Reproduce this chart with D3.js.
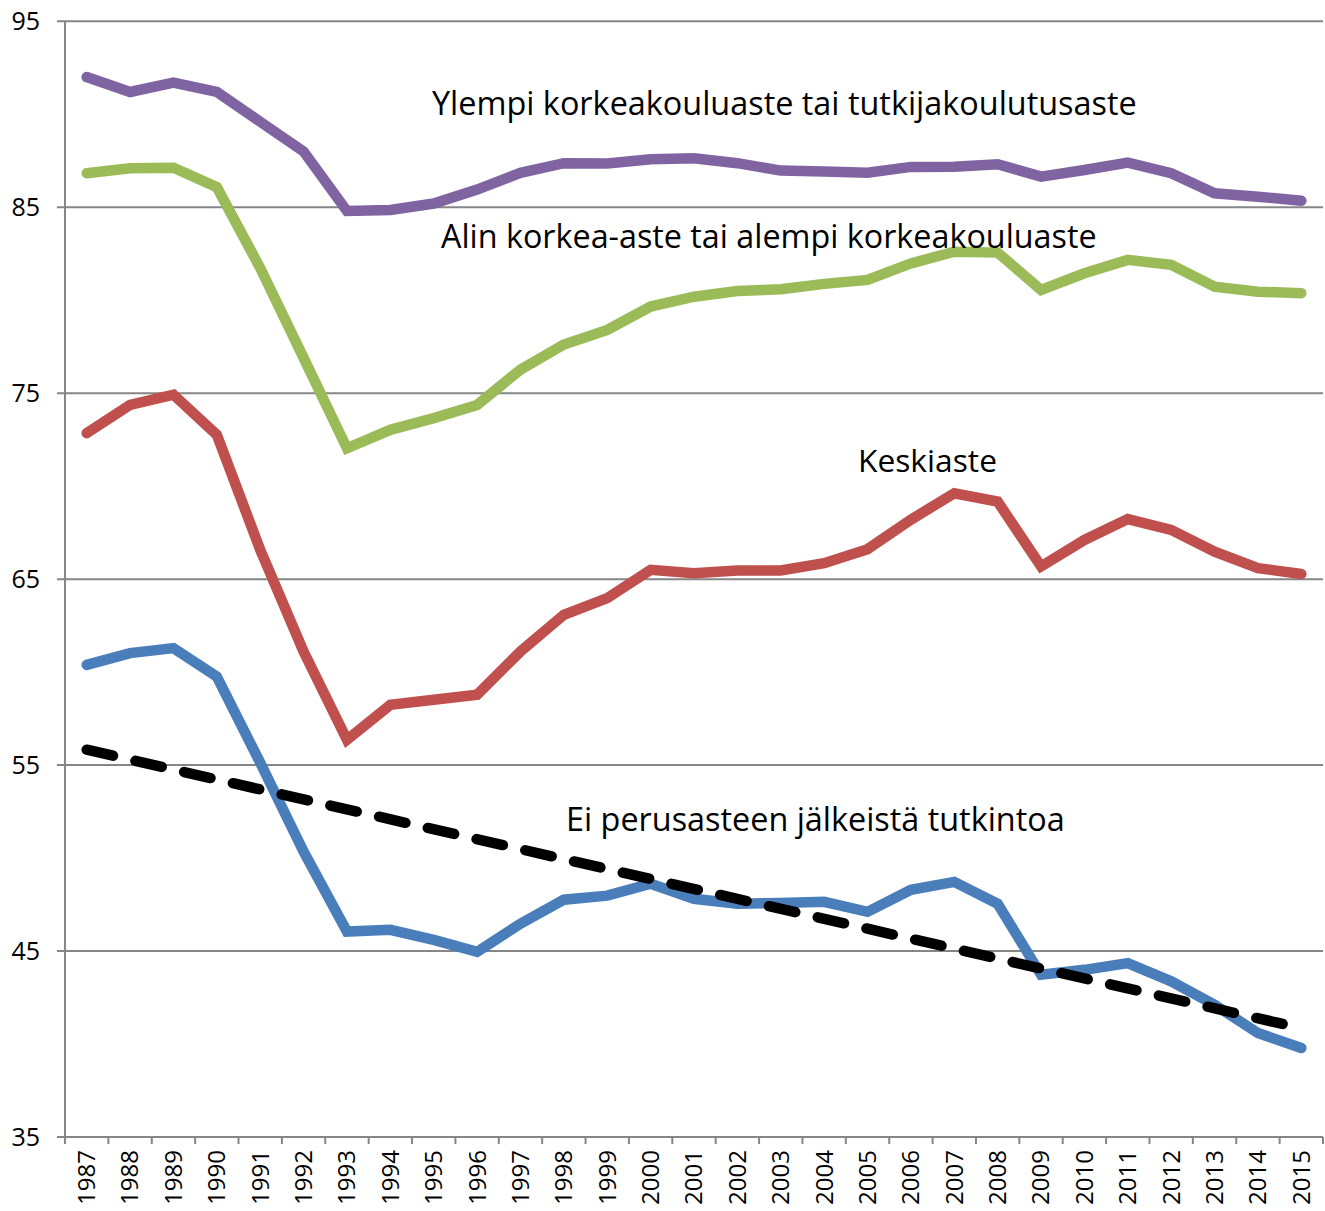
<!DOCTYPE html>
<html>
<head>
<meta charset="utf-8">
<script src="https://cdn.jsdelivr.net/npm/d3@7"></script>
<style>
  body { margin: 0; background: #fff; }
  text { font-family: 'Open Sans', 'Noto Sans', sans-serif; fill: #000; }
</style>
</head>
<body>
<div id="chart"></div>
<script>
// Years on the x axis
const years = d3.range(1987, 2016)

// Series values
const ylempi = [92.0, 91.2, 91.7, 91.2, 89.6, 88.0, 84.8, 84.85, 85.2, 85.95, 86.85, 87.37, 87.35, 87.58, 87.63,
  87.37, 86.97, 86.92, 86.86, 87.17, 87.18, 87.31, 86.65, 87.0, 87.4, 86.83, 85.75, 85.57, 85.35]
const alin = [86.83, 87.1, 87.12, 86.08, 81.73, 76.9, 72.04, 73.03, 73.66, 74.37, 76.27, 77.62, 78.4, 79.66, 80.19,
  80.5, 80.59, 80.88, 81.09, 81.98, 82.61, 82.56, 80.55, 81.45, 82.17, 81.9, 80.73, 80.46, 80.38]
const keskiaste = [72.85, 74.37, 74.92, 72.76, 66.58, 61.11, 56.36, 58.24, 58.51, 58.78, 61.11, 63.08, 63.98, 65.5, 65.32,
  65.47, 65.47, 65.86, 66.61, 68.2, 69.62, 69.17, 65.68, 67.11, 68.23, 67.65, 66.48, 65.59, 65.28]
const eiPerus = [60.39, 61.02, 61.29, 59.76, 55.13, 50.35, 46.05, 46.14, 45.6, 44.96, 46.47, 47.76, 47.98, 48.62, 47.81,
  47.54, 47.59, 47.65, 47.11, 48.29, 48.72, 47.54, 43.73, 43.99, 44.35, 43.37, 42.11, 40.59, 39.79]
// Trend line for eiPerus: start and end point
const trendYears = [1987, 2015]
const trendValues = [55.83, 40.85]

const yTicks = [35, 45, 55, 65, 75, 85, 95]

const series = [
  { name: 'Ylempi korkeakouluaste tai tutkijakoulutusaste', values: ylempi, color: '#8064A2', label: [432, 115, 705] },
  { name: 'Alin korkea-aste tai alempi korkeakouluaste', values: alin, color: '#9BBB59', label: [441, 248, 656] },
  { name: 'Keskiaste', values: keskiaste, color: '#C0504D', label: [858, 472, 139] },
  { name: 'Ei perusasteen jälkeistä tutkintoa', values: eiPerus, color: '#4A7EBB', label: [566, 831, 499] }
]

const width = 1325
const height = 1211
const margin = { top: 21.3, right: 2, bottom: 74, left: 65 }

const svg = d3.select('#chart')
  .append('svg')
  .attr('width', width)
  .attr('height', height)

const x = d3.scaleBand()
  .domain(years)
  .range([margin.left, width - margin.right])

const cx = yr => x(yr) + x.bandwidth() / 2

const y = d3.scaleLinear()
  .domain([35, 95])
  .range([height - margin.bottom, margin.top])

const gridColor = '#868686'

// Horizontal gridlines with small outer ticks
svg.append('g')
  .selectAll('line')
  .data(yTicks)
  .join('line')
  .attr('x1', margin.left - 8)
  .attr('x2', width - margin.right)
  .attr('y1', d => y(d))
  .attr('y2', d => y(d))
  .attr('stroke', gridColor)
  .attr('stroke-width', 2)

// Y axis line and labels
svg.append('line')
  .attr('x1', margin.left).attr('x2', margin.left)
  .attr('y1', y(95)).attr('y2', y(35) + 7)
  .attr('stroke', gridColor)
  .attr('stroke-width', 2)

svg.append('g')
  .selectAll('text')
  .data(yTicks)
  .join('text')
  .attr('x', 40)
  .attr('y', d => y(d))
  .attr('dy', '0.35em')
  .attr('text-anchor', 'end')
  .style('font-size', '25px')
  .text(d => d)

// X axis ticks at band edges
const edges = years.map(yr => x(yr)).concat([width - margin.right])
svg.append('g')
  .selectAll('line')
  .data(edges)
  .join('line')
  .attr('x1', d => d).attr('x2', d => d)
  .attr('y1', y(35)).attr('y2', y(35) + 7)
  .attr('stroke', gridColor)
  .attr('stroke-width', 2)

// X axis labels, rotated
const xAxis = svg.append('g')
  .attr('transform', `translate(0, ${y(35)})`)
  .call(d3.axisBottom(x).tickSize(0))
xAxis.select('.domain').remove()
xAxis.selectAll('text')
  .attr('transform', 'rotate(-90)')
  .attr('x', -13)
  .attr('y', 0)
  .attr('dy', '0.35em')
  .style('text-anchor', 'end')
  .style('font-size', '24px')
  .style('font-family', "'Open Sans', sans-serif")
  .attr('fill', '#000')

// Lines
const line = d3.line()
  .x((d, i) => cx(years[i]))
  .y(d => y(d))

svg.append('g')
  .selectAll('path')
  .data(series)
  .join('path')
  .attr('d', d => line(d.values))
  .attr('fill', 'none')
  .attr('stroke', d => d.color)
  .attr('stroke-width', 10.5)
  .attr('stroke-linejoin', 'miter')
  .attr('stroke-linecap', 'round')

// Dashed trend line
svg.append('path')
  .attr('d', d3.line().x(d => cx(d[0])).y(d => y(d[1]))(d3.zip(trendYears, trendValues)))
  .attr('fill', 'none')
  .attr('stroke', '#000')
  .attr('stroke-width', 10.5)
  .attr('stroke-linecap', 'round')
  .attr('stroke-dasharray', '27,23')

// Series labels, sized to fit the width they have in the picture
svg.append('g')
  .selectAll('text')
  .data(series)
  .join('text')
  .attr('x', d => d.label[0])
  .attr('y', d => d.label[1])
  .style('font-size', '28px')
  .text(d => d.name)
  .each(function (d) {
    const w = this.getComputedTextLength()
    d3.select(this).style('font-size', (28 * d.label[2] / w) + 'px')
  })
</script>
</body>
</html>
